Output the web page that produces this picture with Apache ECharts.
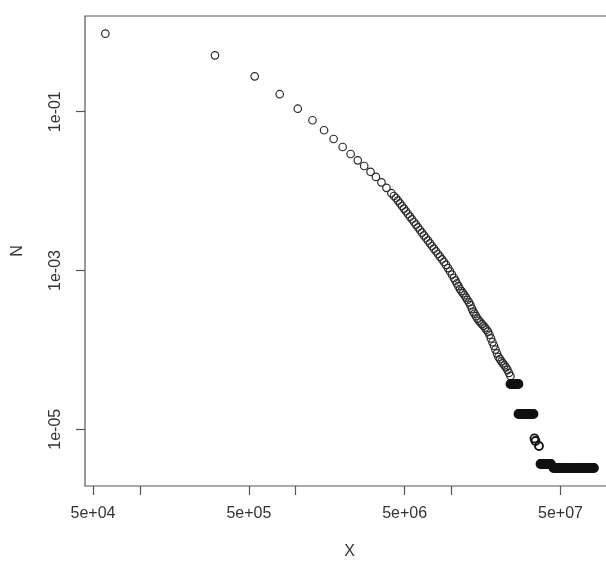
<!DOCTYPE html>
<html>
<head>
<meta charset="utf-8">
<script src="https://cdn.jsdelivr.net/npm/echarts@6/dist/echarts.min.js"></script>
<style>
	html, body { margin: 0; padding: 0; background: #fff; }
	#main { width: 606px; height: 561px; }
</style>
</head>
<body>
<div id="main"></div>
<script>
// x = size, N = share of items at least that large
var curveX = [6.0e4, 3.03e5, 5.45e5, 7.89e5, 1.03e6, 1.28e6, 1.52e6, 1.75e6, 2.00e6, 2.25e6,
	2.50e6, 2.75e6, 3.02e6, 3.27e6, 3.55e6, 3.82e6, 4.11e6,
	4.269e6, 4.397e6, 4.529e6, 4.665e6, 4.805e6, 4.950e6, 5.098e6, 5.251e6, 5.409e6, 5.571e6,
	5.738e6, 5.910e6, 6.087e6, 6.270e6, 6.457e6, 6.651e6, 6.851e6, 7.056e6, 7.268e6, 7.486e6,
	7.710e6, 7.942e6, 8.180e6, 8.425e6, 8.678e6, 8.938e6, 9.206e6, 9.482e6, 9.767e6, 1.006e7,
	1.0362e7, 1.0594e7, 1.0831e7, 1.1073e7, 1.1322e7, 1.1576e7, 1.1835e7, 1.2100e7, 1.2371e7, 1.2649e7,
	1.2932e7, 1.3222e7, 1.3519e7, 1.3781e7, 1.4028e7, 1.4343e7, 1.4664e7, 1.4993e7, 1.5329e7, 1.5672e7,
	1.6023e7, 1.6383e7, 1.6750e7, 1.7125e7, 1.7509e7, 1.7901e7, 1.8302e7, 1.8712e7, 1.9132e7, 1.9560e7,
	1.9999e7, 2.0447e7, 2.0905e7, 2.1374e7, 2.1853e7, 2.2343e7, 2.2844e7, 2.3356e7, 2.3880e7];
var curveN = [0.96, 0.513, 0.279, 0.166, 0.109, 0.078, 0.0584, 0.0453, 0.0359, 0.0293,
	0.0244, 0.0207, 0.0175, 0.0151, 0.0129, 0.0110, 0.0094,
	8.677e-3, 8.186e-3, 7.594e-3, 7.022e-3, 6.493e-3, 6.021e-3, 5.568e-3, 5.148e-3, 4.761e-3, 4.414e-3,
	4.082e-3, 3.786e-3, 3.501e-3, 3.237e-3, 2.993e-3, 2.768e-3, 2.567e-3, 2.373e-3, 2.194e-3, 2.035e-3,
	1.882e-3, 1.745e-3, 1.614e-3, 1.492e-3, 1.384e-3, 1.280e-3, 1.176e-3, 1.072e-3, 9.772e-4, 8.881e-4,
	8.045e-4, 7.439e-4, 6.862e-4, 6.345e-4, 5.848e-4, 5.504e-4, 5.178e-4, 4.873e-4, 4.559e-4, 4.251e-4,
	3.967e-4, 3.658e-4, 3.304e-4, 3.028e-4, 2.858e-4, 2.658e-4, 2.472e-4, 2.326e-4, 2.220e-4, 2.114e-4,
	2.012e-4, 1.904e-4, 1.797e-4, 1.701e-4, 1.550e-4, 1.396e-4, 1.247e-4, 1.127e-4, 1.009e-4, 9.037e-5,
	8.140e-5, 7.639e-5, 7.165e-5, 6.762e-5, 6.383e-5, 6.022e-5, 5.601e-5, 5.119e-5, 4.693e-5];

// flat runs in the tail (same N for many x)
var stepN = [3.72e-5, 1.56e-5, 3.66e-6, 3.26e-6];
var stepX = [
	[2.389e7, 2.424e7, 2.460e7, 2.496e7, 2.533e7, 2.571e7, 2.610e7, 2.649e7, 2.688e7],
	[2.688e7, 2.718e7, 2.748e7, 2.779e7, 2.810e7, 2.841e7, 2.873e7, 2.905e7, 2.937e7, 2.970e7,
		3.003e7, 3.036e7, 3.070e7, 3.104e7, 3.139e7, 3.174e7, 3.209e7, 3.245e7, 3.281e7, 3.318e7, 3.356e7],
	[3.721e7, 3.762e7, 3.804e7, 3.847e7, 3.890e7, 3.933e7, 3.977e7, 4.021e7, 4.066e7, 4.111e7,
		4.157e7, 4.203e7, 4.250e7, 4.297e7, 4.345e7],
	[4.510e7, 4.560e7, 4.611e7, 4.662e7, 4.714e7, 4.766e7, 4.819e7, 4.873e7, 4.927e7, 4.982e7,
		5.037e7, 5.093e7, 5.150e7, 5.207e7, 5.265e7, 5.324e7, 5.383e7, 5.443e7, 5.503e7, 5.565e7,
		5.627e7, 5.690e7, 5.754e7, 5.818e7, 5.882e7, 5.948e7, 6.015e7, 6.082e7, 6.149e7, 6.218e7,
		6.287e7, 6.358e7, 6.429e7, 6.501e7, 6.573e7, 6.646e7, 6.720e7, 6.795e7, 6.871e7, 6.948e7,
		7.025e7, 7.103e7, 7.182e7, 7.262e7, 7.343e7, 7.426e7, 7.509e7, 7.593e7, 7.677e7, 7.762e7,
		7.848e7, 7.936e7, 8.024e7, 8.114e7, 8.204e7]
];
var gapX = [3.405e7, 3.456e7, 3.639e7];
var gapN = [7.66e-6, 7.12e-6, 6.16e-6];

var xTicks = [5e4, 1e5, 5e5, 1e6, 5e6, 1e7, 5e7, 1e8];
var xLabels = [5e4, 5e5, 5e6, 5e7];
var yTicks = [1e-1, 1e-3, 1e-5];

function sci(v) {
	var s = Number(v).toExponential(0);
	return s.replace(/e([+-])(\d+)$/, function(m, sign, d) {
		return 'e' + sign + (d.length < 2 ? '0' + d : d);
	});
}

var points = [];
for (var i = 0; i < curveX.length; i++) {
	points.push([curveX[i], curveN[i]]);
}
var tail = [];
for (var k = 0; k < stepX.length; k++) {
	for (var j = 0; j < stepX[k].length; j++) {
		tail.push([stepX[k][j], stepN[k]]);
	}
	if (k == 1) {
		for (var g = 0; g < gapX.length; g++) {
			tail.push([gapX[g], gapN[g]]);
		}
	}
}

var font = 'Liberation Sans, Arial, sans-serif';
var chart = echarts.init(document.getElementById('main'));
var option = {
	animation: false,
	backgroundColor: '#fff',
	grid: {
		left: 85,
		top: 16,
		width: 529,
		height: 470,
		show: true,
		borderColor: '#555',
		borderWidth: 1.2,
		backgroundColor: 'transparent',
		outerBoundsMode: 'none',
		containLabel: false
	},
	xAxis: {
		type: 'log',
		logBase: 10,
		min: 4.44e4,
		max: 1.103e8,
		name: 'X',
		nameLocation: 'middle',
		nameGap: 58,
		nameTextStyle: { color: '#333', fontSize: 16, fontFamily: font },
		axisLine: { show: false },
		axisTick: {
			show: true,
			customValues: xTicks,
			length: 9,
			lineStyle: { color: '#555', width: 1.2 }
		},
		axisLabel: {
			customValues: xLabels,
			margin: 20,
			color: '#333',
			fontSize: 16,
			fontFamily: font,
			formatter: sci
		},
		splitLine: { show: false },
		minorTick: { show: false }
	},
	yAxis: {
		type: 'log',
		logBase: 10,
		min: 1.93e-6,
		max: 1.604,
		name: 'N',
		nameLocation: 'middle',
		nameGap: 59,
		nameTextStyle: { color: '#333', fontSize: 16, fontFamily: font },
		axisLine: { show: false },
		axisTick: {
			show: true,
			customValues: yTicks,
			length: 9,
			lineStyle: { color: '#555', width: 1.2 }
		},
		axisLabel: {
			customValues: yTicks,
			rotate: 90,
			margin: 21,
			color: '#333',
			fontSize: 16,
			fontFamily: font,
			formatter: sci
		},
		splitLine: { show: false },
		minorTick: { show: false }
	},
	series: [
		{
			type: 'scatter',
			symbol: 'circle',
			symbolSize: 7.5,
			data: points,
			itemStyle: {
				color: 'rgba(0,0,0,0)',
				borderColor: '#2a2a2a',
				borderWidth: 1.2,
				opacity: 1
			},
			emphasis: { disabled: true }
		},
		{
			type: 'scatter',
			symbol: 'circle',
			symbolSize: 8,
			data: tail,
			itemStyle: {
				color: 'rgba(0,0,0,0)',
				borderColor: '#111',
				borderWidth: 1.8,
				opacity: 1
			},
			emphasis: { disabled: true }
		}
	]
};
chart.setOption(option);
</script>
</body>
</html>
